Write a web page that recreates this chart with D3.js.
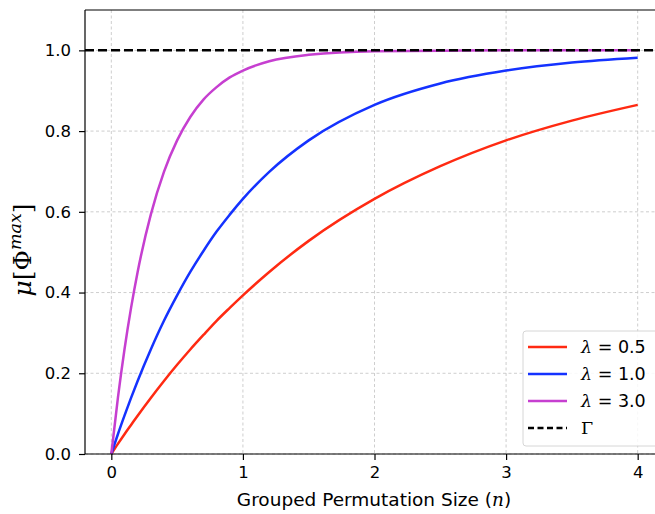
<!DOCTYPE html>
<html lang="en">
<head>
    <meta charset="UTF-8">
    <title>Grouped permutation</title>
    <style>
        html, body { margin: 0; padding: 0; background: #fff; overflow: hidden; }
        svg { display: block; }
        .tick text { font-family: "DejaVu Sans", sans-serif; font-size: 16.5px; fill: #000; }
    </style>
</head>
<body>
    <svg width="655" height="514" id="svg"></svg>
    <script src="https://d3js.org/d3.v7.min.js"></script>
    <script>
        // values
        const nValues = [0, 0.05, 0.1, 0.15, 0.2, 0.3, 0.4, 0.5, 0.6, 0.7, 0.8, 0.9, 1.0, 1.2, 1.5, 2.0, 2.5, 3.0, 3.5, 4.0]
        const lambda05 = [0, 0.025, 0.049, 0.072, 0.095, 0.139, 0.181, 0.221, 0.259, 0.295, 0.330, 0.362, 0.393, 0.451, 0.528, 0.632, 0.713, 0.777, 0.826, 0.865]
        const lambda10 = [0, 0.049, 0.095, 0.139, 0.181, 0.259, 0.330, 0.393, 0.451, 0.503, 0.551, 0.593, 0.632, 0.699, 0.777, 0.865, 0.918, 0.950, 0.970, 0.982]
        const lambda30 = [0, 0.139, 0.259, 0.362, 0.451, 0.593, 0.699, 0.777, 0.835, 0.878, 0.909, 0.933, 0.950, 0.973, 0.989, 0.998, 0.999, 1.0, 1.0, 1.0]
        const gammaLevel = 1.0
        const seriesNames = ["0.5", "1.0", "3.0"]
        const seriesColors = ["#ff2a12", "#1432ff", "#c63fd0"]
        const xTicks = [0, 1, 2, 3, 4]
        const yTicks = [0, 0.2, 0.4, 0.6, 0.8, 1.0]

        const svg = d3.select("svg#svg")
        const padding = { top: 10, left: 85, right: -9, bottom: 60 }
        const width = +svg.attr("width")
        const height = +svg.attr("height")
        const innerWidth = width - padding.left - padding.right
        const innerHeight = height - padding.top - padding.bottom

        const xScale = d3.scaleLinear().domain([-0.2, 4.2]).range([0, innerWidth])
        const yScale = d3.scaleLinear().domain([0, 1.1]).range([innerHeight, 0])

        const g = svg.append("g").attr("transform", `translate(${padding.left},${padding.top})`)

        // grid
        g.append("g").selectAll("line").data(xTicks).join("line")
            .attr("x1", d => xScale(d)).attr("x2", d => xScale(d))
            .attr("y1", 0).attr("y2", innerHeight)
            .attr("stroke", "#c8c8c8").attr("stroke-width", 0.9).attr("stroke-dasharray", "3,2.5")
        g.append("g").selectAll("line").data(yTicks).join("line")
            .attr("x1", 0).attr("x2", innerWidth)
            .attr("y1", d => yScale(d)).attr("y2", d => yScale(d))
            .attr("stroke", "#c8c8c8").attr("stroke-width", 0.9).attr("stroke-dasharray", "3,2.5")

        // curves
        const line = d3.line()
            .x((d, i) => xScale(nValues[i]))
            .y(d => yScale(d))
            .curve(d3.curveMonotoneX)
        const allSeries = [lambda05, lambda10, lambda30]
        allSeries.forEach((s, k) => {
            g.append("path").attr("d", line(s))
                .attr("fill", "none").attr("stroke", seriesColors[k]).attr("stroke-width", 2.5)
        })

        // Gamma line
        g.append("line")
            .attr("x1", 0).attr("x2", innerWidth)
            .attr("y1", yScale(gammaLevel)).attr("y2", yScale(gammaLevel))
            .attr("stroke", "#000").attr("stroke-width", 2.5).attr("stroke-dasharray", "9,4")

        // axes
        const xAxis = d3.axisBottom(xScale).tickValues(xTicks).tickFormat(d3.format("d")).tickSize(6).tickPadding(6)
        const yAxis = d3.axisLeft(yScale).tickValues(yTicks).tickFormat(d3.format(".1f")).tickSize(6).tickPadding(8)
        const gx = g.append("g").attr("transform", `translate(0,${innerHeight})`).call(xAxis)
        const gy = g.append("g").call(yAxis)
        gx.select(".domain").remove()
        gy.select(".domain").remove()
        gx.selectAll(".tick line").attr("stroke", "#000").attr("stroke-width", 1.2)
        gy.selectAll(".tick line").attr("stroke", "#000").attr("stroke-width", 1.2)

        // spines
        g.append("line").attr("x1", 0).attr("x2", 0).attr("y1", 0).attr("y2", innerHeight).attr("stroke", "#000").attr("stroke-width", 1.2)
        g.append("line").attr("x1", 0).attr("x2", innerWidth).attr("y1", innerHeight).attr("y2", innerHeight).attr("stroke", "#000").attr("stroke-width", 1.2)
        g.append("line").attr("x1", 0).attr("x2", innerWidth).attr("y1", 0).attr("y2", 0).attr("stroke", "#000").attr("stroke-width", 1.2)
        g.append("line").attr("x1", innerWidth).attr("x2", innerWidth).attr("y1", 0).attr("y2", innerHeight).attr("stroke", "#000").attr("stroke-width", 1.2)

        // x label
        const xl = svg.append("text")
            .attr("x", 374).attr("y", 506)
            .attr("text-anchor", "middle")
            .attr("font-family", "DejaVu Sans, sans-serif").attr("font-size", 18.5)
        xl.append("tspan").text("Grouped Permutation Size (")
        xl.append("tspan").attr("font-family", "DejaVu Serif, serif").attr("font-style", "italic").text("n")
        xl.append("tspan").text(")")

        // y label
        const yl = svg.append("text")
            .attr("transform", "translate(31,250) rotate(-90)")
            .attr("text-anchor", "middle")
            .attr("font-family", "DejaVu Serif, serif").attr("font-size", 25)
        yl.append("tspan").attr("font-style", "italic").text("μ")
        yl.append("tspan").text("[Φ")
        yl.append("tspan").attr("font-style", "italic").attr("font-size", 17.5).attr("dy", -10).text("max")
        yl.append("tspan").attr("dy", 10).text("]")

        // legend
        const lg = svg.append("g").attr("transform", "translate(523,331)")
        lg.append("rect").attr("x", 0).attr("y", 0).attr("width", 145).attr("height", 115).attr("rx", 3)
            .attr("fill", "#fff").attr("fill-opacity", 0.85).attr("stroke", "#d6d6d6").attr("stroke-width", 1)
        const items = seriesNames.map((nm, k) => ({ label: nm, color: seriesColors[k], dash: null }))
        items.push({ label: null, color: "#000", dash: "6,3.5" })
        items.forEach((it, k) => {
            const yy = 16 + k * 27
            lg.append("line").attr("x1", 5).attr("x2", 44).attr("y1", yy).attr("y2", yy)
                .attr("stroke", it.color).attr("stroke-width", 2.5).attr("stroke-dasharray", it.dash)
            const t = lg.append("text").attr("x", 58).attr("y", yy + 6)
                .attr("font-family", "DejaVu Sans, sans-serif").attr("font-size", 17.5)
            if (it.label) {
                t.append("tspan").attr("font-family", "DejaVu Serif, serif").attr("font-style", "italic").text("λ")
                t.append("tspan").text(" = " + it.label)
            } else {
                t.append("tspan").attr("font-family", "DejaVu Serif, serif").text("Γ")
            }
        })
    </script>
</body>
</html>
